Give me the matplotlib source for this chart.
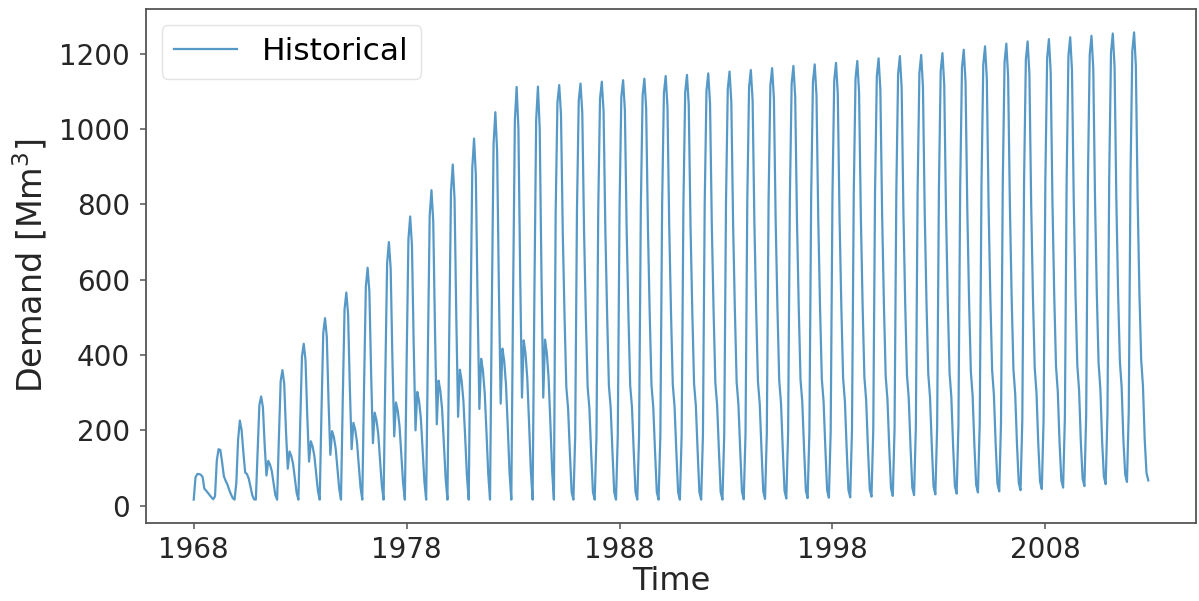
import numpy as np
import matplotlib
matplotlib.use("Agg")
import matplotlib.pyplot as plt

# Monthly demand [Mm3], one list per calendar month, years 1968-2012
years = list(range(1968, 2013))

jan = [16, 25, 60, 145, 180, 215, 249, 283, 316, 350, 384, 419, 453, 488, 523, 556, 557,
       782, 785, 788, 791, 794, 799, 801, 804, 807, 810, 813, 818, 820, 823, 827, 832, 836,
       838, 841, 848, 854, 859, 863, 867, 871, 874, 878, 880]
feb = [75, 120, 175, 267, 331, 396, 458, 521, 581, 644, 707, 771, 834, 897, 961, 1023, 1024,
       1072, 1076, 1081, 1085, 1089, 1095, 1098, 1102, 1107, 1111, 1116, 1121, 1125, 1129, 1134,
       1140, 1146, 1149, 1154, 1163, 1171, 1178, 1184, 1189, 1194, 1198, 1204, 1207]
mar = [84, 150, 226, 290, 360, 430, 498, 566, 632, 700, 768, 838, 906, 975, 1045, 1112, 1113,
       1117, 1121, 1126, 1130, 1134, 1141, 1144, 1148, 1153, 1157, 1162, 1168, 1172, 1176, 1181,
       1188, 1194, 1197, 1202, 1211, 1220, 1227, 1233, 1239, 1244, 1248, 1254, 1257]
apr = [84, 148, 200, 261, 324, 387, 448, 509, 569, 630, 691, 754, 815, 878, 941, 1001, 1002,
       1039, 1043, 1047, 1051, 1055, 1061, 1064, 1068, 1072, 1076, 1081, 1086, 1090, 1094, 1098,
       1105, 1110, 1113, 1118, 1126, 1135, 1141, 1147, 1152, 1157, 1161, 1166, 1169]
may = [82, 115, 140, 160, 198, 237, 274, 311, 348, 385, 422, 461, 498, 536, 575, 612, 612,
       726, 729, 732, 735, 737, 742, 744, 746, 749, 752, 755, 759, 762, 764, 768, 772, 776,
       778, 781, 787, 793, 798, 801, 805, 809, 811, 815, 817]
jun = [76, 78, 88, 80, 98, 117, 135, 150, 166, 184, 200, 216, 236, 257, 271, 287, 287,
       503, 504, 507, 509, 510, 513, 515, 517, 519, 521, 523, 526, 527, 529, 531, 535, 537,
       539, 541, 545, 549, 552, 555, 558, 560, 562, 564, 566]
jul = [45, 66, 84, 119, 144, 171, 198, 220, 247, 274, 302, 332, 361, 390, 417, 439, 441,
       315, 316, 318, 319, 320, 322, 324, 326, 328, 330, 332, 335, 337, 339, 341, 344, 347,
       350, 353, 356, 359, 362, 366, 370, 374, 378, 383, 388]
aug = [40, 56, 72, 109, 132, 157, 182, 202, 227, 252, 278, 305, 332, 359, 384, 404, 406,
       258, 259, 261, 262, 262, 264, 266, 267, 269, 271, 272, 275, 276, 278, 280, 282, 285,
       287, 289, 292, 294, 297, 300, 303, 307, 310, 314, 318]
sep = [34, 42, 50, 92, 111, 132, 152, 169, 190, 211, 233, 256, 278, 300, 321, 338, 340,
       142, 142, 143, 144, 144, 145, 146, 147, 148, 149, 149, 151, 152, 153, 153, 155, 156,
       158, 159, 160, 162, 163, 165, 167, 168, 170, 172, 175]
oct_ = [28, 30, 28, 60, 72, 86, 99, 110, 124, 137, 151, 166, 181, 195, 209, 220, 221,
        36, 36, 36, 36, 36, 36, 36, 36, 37, 38, 39, 40, 41, 42, 44, 46, 48, 50, 52, 55, 58,
        61, 64, 68, 72, 77, 83, 87]
nov = [22, 20, 17, 28, 34, 39, 45, 49, 54, 60, 65, 71, 77, 83, 88, 93, 93,
       16, 16, 16, 16, 16, 16, 16, 16, 17, 18, 19, 20, 21, 22, 24, 26, 28, 30, 32, 35, 38,
       41, 44, 48, 52, 57, 63, 67]
# the record stops in November 2012
dec = [17, 16, 16, 16, 16, 16, 16, 16, 16, 16, 16, 16, 16, 16, 16, 16, 16,
       184, 185, 186, 186, 187, 188, 188, 189, 191, 192, 194, 196, 197, 199, 202, 205, 208,
       210, 214, 218, 222, 226, 230, 235, 239, 245, 252]

xtick_values = [1968, 1978, 1988, 1998, 2008]
xtick_labels = ["1968", "1978", "1988", "1998", "2008"]
series_label = "Historical"

months = [jan, feb, mar, apr, may, jun, jul, aug, sep, oct_, nov, dec]
for m in months[:11]:
    assert len(m) == len(years)
assert len(dec) == len(years) - 1

t, demand = [], []
for i, yr in enumerate(years):
    for k, col in enumerate(months):
        if i < len(col):
            t.append(yr + k / 12.0)
            demand.append(col[i])
t = np.array(t)
demand = np.array(demand, dtype=float)

fig = plt.figure(figsize=(11.99, 6.01), dpi=100)
ax = fig.add_axes([146 / 1199, 1 - 523 / 601, (1196 - 146) / 1199, (523 - 9) / 601])

ax.plot(t, demand, color="#1f77b4", lw=1.6, alpha=0.75, label=series_label)

ax.set_xticks(xtick_values)
ax.set_xticklabels(xtick_labels)
ax.set_yticks([0, 200, 400, 600, 800, 1000, 1200])

for side in ax.spines.values():
    side.set_color("#555555")
    side.set_linewidth(1.3)
ax.tick_params(axis="both", labelsize=20, length=4, width=1.1, color="#555555",
               labelcolor="#262626")
ax.tick_params(axis="y", pad=7.5)
ax.tick_params(axis="x", pad=5)

ax.set_xlabel("Time", fontsize=23, color="#262626", labelpad=2)
ax.set_ylabel("Demand [Mm$^3$]", fontsize=24, color="#262626", labelpad=7)

leg = ax.legend(loc="upper left", fontsize=22.5)
leg.get_frame().set_edgecolor("#dddddd")

fig.savefig("out.png", dpi=100)
